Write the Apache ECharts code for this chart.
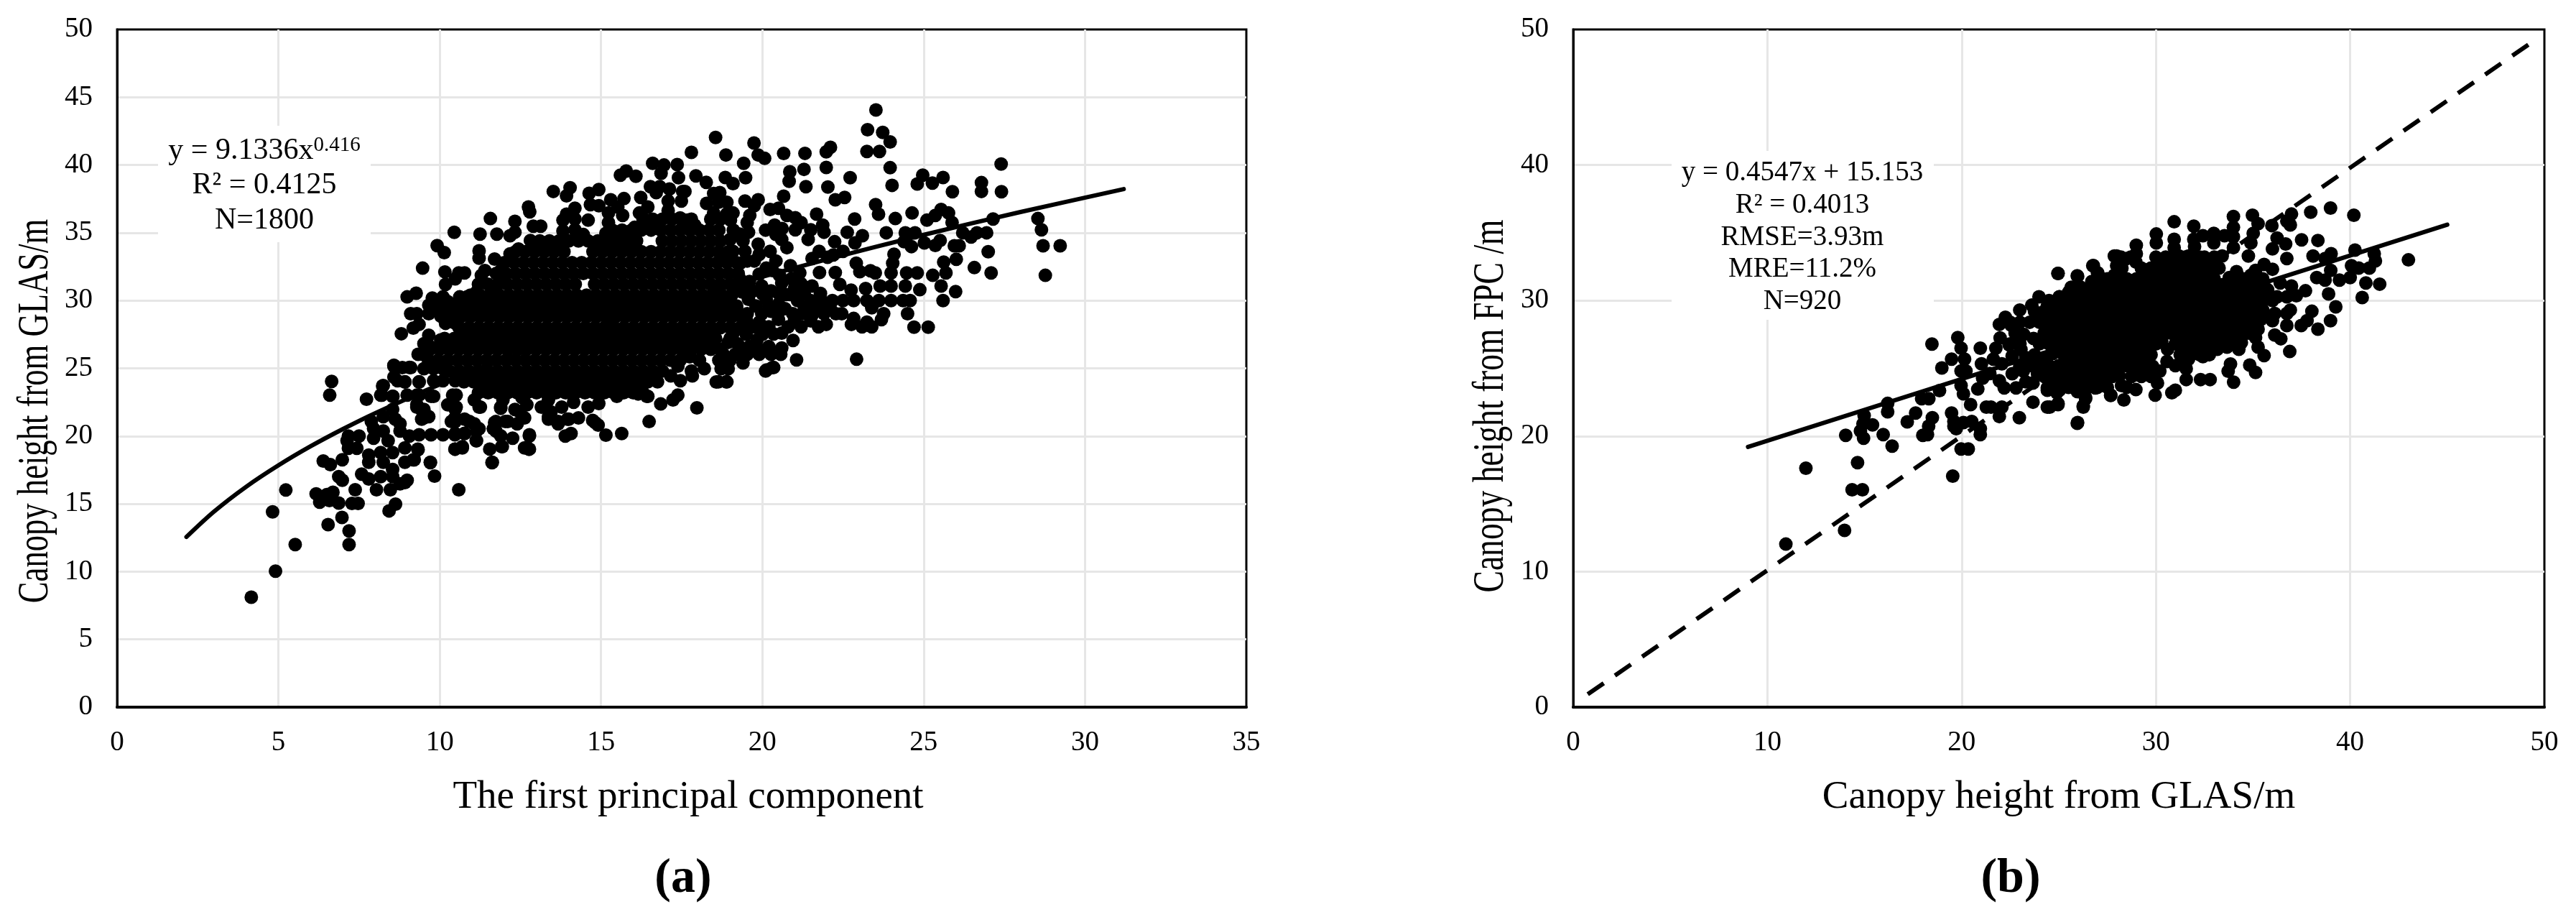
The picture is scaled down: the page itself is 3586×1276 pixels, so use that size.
<!DOCTYPE html>
<html><head><meta charset="utf-8">
<style>html,body{margin:0;padding:0;background:#fff}#c{width:3586px;height:1276px}</style>
<script src="https://cdn.jsdelivr.net/npm/echarts@6/dist/echarts.min.js"></script>
</head><body><div id="c"></div>
<script>
// ---------- panel (a): outlying / edge points [x, y]
const edgeA1=[[4.16,8.11],[4.91,10.03],[5.52,12],[7.19,12],[7.19,13],[6.54,13.47],[6.97,14],[4.82,14.41],[5.23,16.02],[6.17,15.74],[6.28,15.12],[6.58,15.24],[6.87,15.06],[6.69,15.86],[6.5,15.68],[7.38,16.04],[7.28,15.03],[7.47,15.03],[8.43,14.48],[8.63,14.98],[10.59,16.04],[9.84,17.05],[9.71,18.04],[8.04,16.04],[8.47,16.04],[8.92,16.57],[8.77,16.48],[8.99,16.74],[6.87,17.01],[6.98,16.74],[7.58,17.19],[7.8,16.83],[8.17,17.01],[8.54,17.01],[6.39,18.16],[6.61,17.89],[6.98,18.25],[7.8,18.07],[8.25,18.07],[8.54,17.54],[8.92,18.07],[9.21,18.25],[9.32,19.04],[7.8,18.6],[8.17,18.78],[8.54,18.78],[8.92,19.13],[7.17,19.1],[7.43,19.1],[7.13,19.66],[7.17,20],[7.5,20],[7.95,20.55],[8.25,20.37],[7.95,19.84],[8.4,19.66],[8.77,20.37],[7.73,22.72],[6.65,24.03],[6.59,23.02],[8.23,23.7],[8.21,23.02],[8.54,22.93],[8.54,21.96],[8.25,21.43],[8.62,21.25],[8.77,20.9],[7.88,21.08],[10.47,19.04],[10.7,19.22],[11.55,19.04],[11.92,19.22],[11.62,18.04],[12.78,19.04],[12.78,20],[11.14,19.66],[10.47,20.1],[10.77,20.2],[10.1,20.1],[9.73,20.1],[9.36,20.1],[9.06,20],[12.26,19.84],[11.74,20.37],[12.03,21.08],[11.7,21],[11.14,20.37],[10.92,21.08],[10.36,21.08],[9.51,21.34],[9.43,21.96],[9.29,22.32],[8.99,23.02],[9.36,23.02],[9.73,22.93],[9.36,24],[8.92,24],[8.69,24.08],[8.58,25.23],[9.06,25.06],[10.51,23.02],[10.51,22.14],[10.47,21.34],[11.22,22.14],[11.89,22.14],[12.48,21.78],[13.37,21.43],[13.67,20.9],[13.96,21.25],[13.89,20]];
const edgeA2=[[18.55,42.03],[17.8,40.93],[16.6,40.12],[16.95,40],[16.86,39.38],[17.36,40.03],[17.94,39.2],[18.26,38.72],[17.4,39.06],[17.53,38.05],[15.78,39.55],[15.6,39.25],[16.08,39.17],[13.52,38.05],[14.04,38.32],[13.93,37.73],[14.93,38.19],[14.63,37.91],[14.67,37.08],[14.93,37],[15.3,37.43],[15.71,37.52],[15.52,36.9],[16.53,38.4],[16.82,38.4],[17.12,38.23],[16.23,37.61],[16.71,37.96],[16.45,36.9],[16.19,36.46],[17.08,37.34],[17.08,36.64],[17.49,37.34],[17.6,38.05],[18.27,37.17],[18.49,37.9],[16.41,35.93],[16.79,35.57],[17.68,35.93],[17.45,36.1],[18.49,36.46],[17.9,35.57],[15.23,36.46],[15.23,35.75],[15.67,36.28],[15.15,34.96],[15.6,34.87],[16.04,35.4],[14.19,36.81],[13.93,36.37],[14.6,35.93],[13.82,35.93],[14.19,36.02],[13.82,35.13],[14.19,35.22],[14.45,34.87],[12.75,36.9],[12.79,36.55],[12.9,35.49],[13.13,35.49],[12.33,35.84],[12.33,35.04],[12.18,34.78],[11.57,36.05],[11.77,34.9],[11.25,34.9],[10.45,35.03],[9.92,34.05],[10.14,33.54],[9.47,32.39],[11.22,33.67],[11.22,33.13],[12.81,34.43],[12.44,33.8],[12.18,33.45],[11.7,33.06],[10.16,32.11],[10.59,32.04],[10.77,32.04],[10.48,31.6],[10.18,31.19],[11.4,32.21],[11.29,31.86],[11.89,32.21],[11.96,31.86],[8.99,30.27],[9.27,30.54],[9.1,29.03],[9.29,29.03],[9.18,27.97],[9.36,28.24],[8.81,27.55],[9.77,30.18],[9.66,29.65],[10.1,30.27],[10.25,29.92],[10.62,30.27],[10.85,30.27],[11.14,30.62],[11.66,30.89],[9.66,29.03],[10.03,28.86],[10.18,28.32],[10.48,28.32],[9.66,27.44],[10.03,27.09],[9.51,26.82],[9.47,26.03],[9.33,26.03],[9.73,26.56],[8.58,25.14],[8.84,25.05],[9.1,25.05],[8.58,24.35],[8.92,23.99],[8.25,23.73],[8.17,23.02],[8.55,22.93],[9.36,23.99],[9.81,24.08],[9.29,23.02],[9.81,22.93],[9.29,22.14],[9.51,21.96],[9.44,21.25],[9.66,21.43],[9.51,24.97],[9.81,24.97],[10.1,24.97],[10.1,24.08],[10.48,24.08],[10.4,23.02],[10.25,22.31],[10.48,21.96],[10.48,21.07],[10.77,21.25],[11.07,20.9],[11.22,20.54],[10.48,20.19],[10.77,20.19],[10.48,19.04],[10.7,19.13],[11.13,19.66],[11.94,19.22],[11.63,18.07],[9.71,18.07],[9.33,18.99],[9.18,18.25],[11.66,20.54],[11.74,21.07],[12.11,21.07],[11.89,20.02],[12.78,20.1],[12.76,19.04],[12.63,19.13],[12.63,21.34],[12.4,20.9],[12.33,21.96],[11.26,22.14],[11.07,22.67],[11.89,22.05],[11.96,22.67],[12.7,22.31],[12.55,22.84],[13.15,22.14],[13.37,21.25],[13.67,21.07],[14,21.25],[14.3,21.34],[13.45,21.78],[13.37,22.67],[13.78,22.14],[14.15,22.49],[14.6,22.14],[14.93,22.4],[14.07,20.19],[14.74,21.16],[14.91,20.81],[15.15,20.07],[15.64,20.19],[16.49,21.07],[16.85,22.37],[17.23,22.67],[17.38,23.02],[17.97,22.08],[15.49,22.93],[16.15,23.11],[16.45,22.93],[18.57,23.99],[14.82,20.99],[16.42,22.93],[17.46,24.08],[17.83,24.44],[18.2,24.97],[17.16,24.44],[17.38,25.16],[17.75,25.85],[18.64,24],[18.9,24],[18.72,24.97],[18.94,24.97],[20.13,24.88],[20.35,25.06]];
const edgeA3=[[23.52,44.06],[23.26,42.6],[23.73,42.4],[23.96,41.7],[23.24,41],[23.63,41],[23.96,39.8],[24.02,38.5],[27.4,40.07],[26.79,38.7],[26.79,38.05],[27.41,38.03],[24.97,39.25],[25.6,39.08],[25.27,38.67],[24.8,38.6],[25.89,38.03],[22.72,39.06],[21.98,39.82],[22.11,41.3],[21.98,40.97],[21.32,40.86],[20.66,40.85],[21.29,39.68],[20.85,39.5],[20.83,38.8],[21.35,38.4],[22.03,38.37],[19.74,41.62],[19.87,40.74],[20.07,40.49],[18.87,40.74],[19.42,40.12],[19.48,39.06],[18.85,39.08],[19.09,38.63],[20.66,37.7],[22.26,37.43],[22.55,37.61],[23.51,37.08],[23.6,36.37],[22.86,36.02],[24.12,36.05],[24.64,36.46],[27.15,36.02],[28.54,36.05],[28.65,35.22],[28.7,34.04],[29.23,34.04],[28.77,31.86],[27,33.6],[26.01,33.05],[26.57,32.43],[27.09,32.04],[25.99,30.66],[25.6,30],[24.7,28.04],[25.14,28.04],[24.5,29.03],[22.92,25.67],[21.06,25.62],[20.95,27.05],[20.8,28.06],[21.2,28.06],[21.74,28.06],[21.98,28.24],[20.1,24.8],[20.31,25.05],[18.88,24],[25.54,36.72],[25.36,36.28],[25.1,35.93],[25.77,36.46],[25.88,35.75],[24.43,35],[24.73,35],[26.21,35],[26.65,35],[26.95,35],[26.47,34.69],[25.02,34.25],[25.36,34.07],[25.51,34.43],[24.62,33.98],[24.39,34.34],[25.95,34.04],[26.1,34.04],[23.84,35],[22.63,35.04],[23.1,34.78],[22.87,34.25],[22.24,34.34],[21.76,33.63],[21.54,33.1],[22.5,33.63],[22.2,33.36],[22.02,33.19],[22.91,32.75],[23.02,32.13],[23.35,32.2],[23.5,32.04],[24.08,33.42],[24.04,32.75],[23.99,32.04],[24.47,32.04],[24.8,32.04],[21.77,32.07],[22.26,32.07],[22.4,31.19],[22.75,30.77],[23.2,30.89],[23.65,31.07],[23.99,31.07],[24.43,31.07],[24.88,30.8],[25.28,31.86],[25.62,32.83],[25.69,32.04],[25.54,31.07],[21.5,30],[21.83,30],[22.17,30],[22.5,30],[22.83,30],[23.24,30],[23.61,30],[23.99,30],[24.36,30],[24.58,30],[23.39,29.47],[23.76,29.03],[23.69,28.59],[23.24,28.41],[23.09,28.06],[23.39,28.06],[22.76,28.24],[22.83,28.68],[20.94,29.03],[21.24,29.03],[21.57,29.03],[21.91,29.03],[22.28,29.03],[22.46,29.03],[21.09,30],[20.87,30.45],[21.2,31.24],[21.54,31.07],[21.8,30.53],[20.87,32.57],[21.16,32.04],[20.76,33.9],[20.24,33.63],[19.87,34.16],[20.42,32.92],[19.46,33.63],[19.09,33.63],[19.53,32.92],[19.75,32.92],[20.12,32.39],[19.31,32.75],[21.68,36.37],[21.87,35.57],[21.91,35.04],[21.5,35.22],[21.42,34.51],[21.2,35.75],[21.02,36.11],[21.02,35.22],[20.38,35.57],[20.42,34.87],[20.24,36.72],[20.5,36.81],[20.76,36.28],[20.61,35.31],[19.46,37.34],[19.87,37.43],[19.61,36.28],[19.75,37],[19.09,36.46],[18.9,37.25],[19.57,35.04],[19.53,35.75],[19.01,35.93],[18.64,37.25],[18.68,37.96],[20.31,32.21],[19.9,31.95],[20.53,31.86],[20.27,30.71],[20.5,30.53],[19.98,31.07],[19.38,30.62],[19.57,30.09],[20.12,30.09],[20.5,29.74],[20.72,30.45],[19.53,29.03],[19.98,29.03],[20.27,29.2],[20.5,29.12],[19.46,28.06],[19.75,28.06],[20.2,28.06],[20.35,27.53],[19.83,27.1],[19.83,26.56],[19.23,26.82],[18.94,26.91],[18.79,26.03],[19.16,26.03],[19.53,26.03],[19.9,26.03],[20.27,26.03],[20.57,26.03],[18.9,25.05]];
// extra points in the crowded area right of the core of panel (a)
const fillA=[[19.3,31.6],[19.6,31.4],[19.7,30.7],[20,30.5],[19.2,29.5],[19.8,29.6],[20.2,29.6],[20.7,29.4],[21.3,29.5],[21.7,29.6],[22.1,29.5],[20.5,28.6],[21,28.6],[21.5,28.5],[19.5,28.6],[19.9,28.4],[19.1,27.6],[19.5,27.5],[20,27.5],[20.6,27.6],[19.3,26.4],[19.6,26.6],[20.2,26.6],[20.6,26.5],[19,25.6],[19.4,25.4],[19.1,30.9],[20.6,31.3],[21,30.9],[19,34.5],[19.4,34.4],[19.9,33.4],[20.6,34.5],[20.1,35.2],[19.1,35.2],[18.9,36.4],[19.3,34.9],[20.9,31.6],[21.3,30.5],[18.9,33.2]];
// dense core of panel (a): each row is [y, x, x, x ...], estimated from the solid black area
const coreA=[
[36.0,16.3,16.6,16.9,17.2,17.5,17.8,18.4,18.7,19.0],
[35.2,15.35,15.65,15.95,16.25,16.55,16.85,17.15,17.45,17.75,18.05,18.35,18.65],
[34.4,13.1,13.4,13.7,14,14.3,14.6,14.9,15.2,15.5,15.8,16.1,16.9,17.2,17.5,17.8,18.1,18.4,18.7],
[33.6,12.35,12.65,12.95,13.25,13.55,13.85,14.75,15.05,15.35,15.65,15.95,16.25,16.55,16.85,17.15,17.45,17.75,18.05,18.35,18.65,18.95],
[32.8,12,12.3,12.6,12.9,13.2,13.5,13.8,14.1,14.4,14.7,15,15.3,15.6,15.9,16.2,16.5,16.8,17.1,17.4,17.7,18,18.3,18.6,18.9,19.2],
[32.0,11.75,12.05,12.35,12.65,12.95,13.25,13.55,13.85,14.15,14.45,14.75,15.05,15.35,15.65,15.95,16.25,16.55,16.85,17.15,17.45,17.75,18.05,18.35,18.65,18.95,19.25],
[31.2,11.2,11.5,11.8,12.1,12.4,12.7,13,13.3,13.6,13.9,14.2,14.8,15.1,15.4,15.7,16,16.3,16.6,16.9,17.2,17.5,17.8,18.1,18.4,18.7,19,19.4],
[30.4,10.95,11.25,11.55,11.85,12.15,12.45,12.75,13.05,13.35,13.65,13.95,14.25,14.55,14.85,15.15,15.45,15.75,16.05,16.35,16.65,16.95,17.25,17.55,17.85,18.15,18.45,18.75,19.05,19.55],
[29.6,9.9,10.2,10.5,10.8,11.1,11.4,11.7,12,12.3,12.6,12.9,13.2,13.5,13.8,14.1,14.4,14.7,15,15.3,15.6,15.9,16.2,16.5,16.8,17.1,17.4,17.7,18,18.3,18.6,18.9,19.2],
[28.8,10.35,10.65,10.95,11.25,11.55,11.85,12.15,12.45,12.75,13.05,13.35,13.65,13.95,14.25,14.55,14.85,15.15,15.45,15.75,16.05,16.35,16.65,16.95,17.25,17.55,17.85,18.15,18.45,18.75,19.05,19.35],
[28.0,10.6,10.9,11.2,11.5,11.8,12.1,12.4,12.7,13,13.3,13.6,13.9,14.2,14.5,14.8,15.1,15.4,15.7,16,16.3,16.6,16.9,17.2,17.5,17.8,18.1,18.4,18.7,19,19.3],
[27.2,10.15,10.45,10.75,11.05,11.35,11.65,11.95,12.25,12.55,12.85,13.15,13.45,13.75,14.05,14.35,14.65,14.95,15.25,15.55,15.85,16.15,16.45,16.75,17.05,17.35,17.65,17.95,18.25,18.55,19],
[26.4,9.7,10,10.3,10.6,10.9,11.2,11.5,11.8,12.1,12.4,12.7,13,13.3,13.6,13.9,14.2,14.5,14.8,15.1,15.4,15.7,16,16.3,16.6,16.9,17.2,17.5,17.8,18.1,18.4,18.7],
[25.6,9.65,9.95,10.25,10.55,10.85,11.15,11.45,11.75,12.05,12.35,12.65,12.95,13.25,13.55,13.85,14.15,14.45,14.75,15.05,15.35,15.65,15.95,16.25,16.55,16.85,17.15,17.45,18.05,18.65],
[24.8,10.3,10.6,10.9,11.2,11.5,11.8,12.1,12.4,12.7,13,13.3,13.6,13.9,14.2,14.5,14.8,15.1,15.4,15.7,16,16.3,16.6,16.9,17.8],
[24.0,10.75,11.05,11.35,11.65,11.95,12.25,12.55,12.85,13.15,13.45,13.75,14.05,14.35,14.65,14.95,15.25,15.55,15.85,16.15,16.45,16.75],
[23.2,11.2,11.5,11.8,12.1,12.4,12.7,13,13.3,13.6,13.9,14.2,14.5,14.8,15.1,15.4,15.7,16,16.3]
];
const trendAx=[2.15,3,4,5,6,7,8,10,12,15,18,20,22,25,28,31.2];
const trendAy=[12.56,14.42,16.26,17.84,19.25,20.52,21.69,23.81,25.68,28.18,30.4,31.76,33.04,34.85,36.53,38.22];

// ---------- panel (b): outlying / edge points [x, y]
const edgeB1=[[10.95,12.03],[13.97,13.04],[11.98,17.63],[14.64,18.04],[14.36,16.04],[14.89,16.04],[19.54,17.05],[19.97,19.05],[20.34,19.05],[16.42,19.26],[15.96,20.11],[14.03,20.06],[14.95,19.84],[14.79,20.37],[15.41,20.82],[14.98,21.52],[14.92,20.9],[16.19,21.79],[16.19,22.41],[17.2,21.05],[17.63,21.7],[17.94,22.76],[18.31,22.76],[18.86,23.35],[18,20.06],[18.24,20.11],[18.3,20.73],[18.49,21.35],[19.48,21.7],[19.6,20.73],[19.72,20.55],[20.09,21],[20.52,21.08],[20.96,20.55],[20.96,20.11],[19.6,21.08],[18.47,26.79],[19.8,27.27],[19.97,26.48],[20.15,25.68],[19.48,25.68],[18.98,25.03],[19.97,24.8],[20.22,24.8],[19.97,23.73],[20.09,23.12],[20.46,22.32],[20.96,26.48],[21.98,27.24],[21.76,26.48],[20.83,23.47],[21.27,22.14],[21.51,22.14],[22.07,22.14],[21.94,21.44],[22.97,21.35],[22.8,23.56],[22.19,23.56],[21.02,25.33],[21.63,25.68],[22.07,25.33],[21.45,24.62],[21.94,24.09],[21.08,24.27],[22.99,25.15],[23.05,26.39],[22.44,26.74],[23.17,24.8],[21.94,28.24],[22.25,28.77],[22.99,29.3],[22.56,28.16],[23.61,29.66],[23.98,30.28],[24.96,32],[25.97,31.78],[26.78,32.58],[27,32.05],[23.67,22.5],[24.41,22.14],[24.96,22.41],[23.67,23.91],[24.41,23.56],[25.03,23.38],[25.97,21],[26.26,22.14],[26,23.29],[26.38,22.85],[27.67,23],[24.04,24.62],[25.64,30.98],[25.03,30.28],[24.41,29.57],[26.13,30.98],[27.18,30.98],[27.86,33.28],[27.86,31.87]];
const edgeB2=[[43,33],[40.19,36.29],[38.99,36.82],[37.97,36.52],[38.34,34.43],[37.5,34.48],[36.98,36.38],[36.92,35.58],[36.74,35.85],[35.97,35.53],[34.97,36.29],[35.26,35.67],[35.01,34.96],[34.89,34.25],[33.99,36.2],[33.99,35.4],[33.99,34.7],[33.99,33.9],[33.53,34.78],[32.98,34.96],[32.98,34.25],[32.42,34.78],[31.95,35.49],[31.95,34.52],[31.99,33.99],[30.94,35.81],[30.02,34.91],[30.02,34.25],[30.94,34.52],[30.94,33.9],[28.99,34.08],[28.99,33.46],[27.98,33.28],[27.98,32.57],[27.98,31.95],[28.48,33.1],[28.97,32.84],[26.75,32.57],[27,32],[27.18,30.98],[25.95,31.83],[24.96,32],[25.95,30.81],[25.52,30.63],[25.03,30.27],[24.78,29.92],[24.47,29.39],[36.24,34.61],[36,33.81],[36.68,34.17],[36.74,33.1],[35.57,32.66],[36,32.31],[35.13,32.22],[34.89,31.87],[34.15,32.13],[33.78,31.69],[33.41,31.16],[34.76,33.28],[33.41,33.28],[32.79,31.96],[32.3,33.19],[32.92,32.75],[31.68,33.28],[31.19,33.28],[38.09,33.28],[39.02,33.46],[38.71,33.1],[40.25,33.72],[41.24,33.46],[41.3,32.93],[40.99,32.4],[40.07,32.57],[40.44,32.4],[40,31.69],[39.45,31.51],[39,32.22],[38.71,31.51],[38.28,31.69],[40.81,31.3],[41.52,31.21],[40.62,30.22],[38.89,30.49],[39.26,29.53],[38.99,28.51],[36.98,31.07],[37.7,30.72],[37.23,30.36],[36.74,30.27],[36.24,30.27],[35.75,30.27],[36.92,29.3],[36.74,29.04],[36.12,29.04],[36,28.51],[36.74,28.15],[37.48,28.15],[38.03,29.21],[37.78,28.51],[38.34,27.89],[36.12,27.45],[36.43,27.18],[36.89,26.24],[35.57,25.94],[35.26,26.56],[34.76,27.98],[35.26,27.89],[35.13,27.27],[34.27,26.4],[33.66,26.56],[33.16,26.4],[33.84,25.32],[33.72,24.79],[34,23.98],[34.83,25.24],[35.13,24.7],[32.79,24.17],[32.3,24.17],[31.56,24.17],[31.56,24.97],[31.68,25.68],[32.42,25.86],[32.42,26.56],[31.81,26.74],[31,23.38],[30.82,23.2],[29.96,23.02],[30.08,23.91],[30.2,24.79],[30.57,25.5],[29.83,25.15],[28.97,23.43],[28.35,22.67],[27.68,23.02],[28.23,23.73],[28.11,24.44],[27.37,23.73],[26.88,23.56],[26.26,22.23],[26.38,22.76],[25.95,23.29],[25.95,20.94],[24.96,22.32],[24.53,22.14],[24.9,23.2],[24.41,23.38]];
// extra points in the crowded areas beside the core of panel (b)
const fillB=[[23.2,27.5],[23.7,27.2],[22.6,25.9],[23.3,25.8],[24.3,25.8],[24.7,26.1],[23.9,24.6],[24.6,24.2],[23.3,24],[22.6,24.6],[25.3,24.7],[26.2,23.9],[27,24],[35.5,29.3],[35.8,28.8],[35.4,28.6],[35.2,29.8],[34.8,28],[35.5,31],[34.4,26.9],[33.9,27.1],[30.3,27],[30.6,26.4],[33.2,30.1],[36.4,31.3],[26.7,31.4],[27.1,31.7]];
// dense core of panel (b): each row is [y, x, x, x ...]
const coreB=[
[33.2,28.2,28.7,30,30.5,31,31.5,32,32.5,33],
[32.4,28.25,29.25,29.75,30.25,30.75,31.25,31.75,32.25,32.75,33.25],
[31.6,27.5,28,28.5,29,29.5,30,30.5,31,31.5,32,32.5,33,34,34.5,35,35.5],
[30.8,25.75,26.25,26.75,27.25,27.75,28.25,28.75,29.25,29.75,30.25,30.75,31.25,31.75,32.25,32.75,33.25,33.75,34.25,34.75,35.25,35.75],
[30.0,24.5,25,25.5,26,26.5,27,27.5,28,28.5,29,29.5,30,30.5,31,31.5,32,32.5,33,33.5,34,34.5,35,35.5,36],
[29.2,23.75,24.25,24.75,25.25,25.75,26.25,26.75,27.25,27.75,28.25,28.75,29.25,29.75,30.25,30.75,31.25,31.75,32.25,32.75,33.25,33.75,34.25,34.75,35.25],
[28.4,22.5,23,23.5,24,24.5,25,25.5,26,26.5,27,27.5,28,28.5,29,29.5,30,30.5,31,31.5,32,32.5,33,33.5,34,34.5,35],
[27.6,22.75,24.25,24.75,25.25,25.75,26.25,26.75,27.25,27.75,28.25,28.75,29.25,29.75,30.25,30.75,31.25,31.75,32.25,32.75,33.25,33.75,34.25,34.75],
[26.8,22.5,23,24,24.5,25,25.5,26,26.5,27,27.5,28,28.5,29,29.5,30,31,31.5,32,32.5,33,33.5],
[26.0,23.75,25.25,25.75,26.25,26.75,27.25,27.75,28.25,28.75,29.25,29.75,31.25,31.75,32.25,32.75],
[25.2,23.5,24,24.5,25,25.5,26,26.5,27,27.5,28,28.5,29,29.5,31,31.5],
[24.4,24.25,24.75,25.25,25.75,26.25,26.75,27.25,27.75,28.75,29.25,29.75],
[23.6,25,25.5,26,26.5,27,27.5,28.5]
];
const trendBx=[9,45];
const trendBy=[19.2,35.6];
const oneToOneX=[0.75,49.55];
const oneToOneY=[0.95,49.25];

const xTicksA=[0,35,5], yTicksA=[0,50,5], ticksB=[0,50,10];
const statA=['y = 9.1336x{sup|0.416}','R² = 0.4125','N=1800'];
const statB=['y = 0.4547x + 15.153','R² = 0.4013','RMSE=3.93m','MRE=11.2%','N=920'];

function flat(rows){const o=[];rows.forEach(r=>{for(let i=1;i<r.length;i++)o.push([r[i],r[0]]);});return o;}
function zip(a,b){return a.map((v,i)=>[v,b[i]]);}

const FONT='"Liberation Serif","Times New Roman",serif';
const GRID_LINE='#e6e6e6';
function xAxis(idx,t,name,pad){return {type:'value',gridIndex:idx,min:t[0],max:t[1],interval:t[2],
  name:name,nameLocation:'middle',nameGap:98,nameTextStyle:{fontFamily:FONT,fontSize:55,color:'#000',padding:pad},
  axisLine:{show:true,onZero:false,lineStyle:{color:'#000',width:4}},axisTick:{show:false},
  axisLabel:{fontFamily:FONT,fontSize:39,color:'#000',margin:30,hideOverlap:false},
  splitLine:{show:true,showMinLine:false,showMaxLine:false,lineStyle:{color:GRID_LINE,width:3}}};}
function yAxis(idx,t){return {type:'value',gridIndex:idx,min:t[0],max:t[1],interval:t[2],
  axisLine:{show:true,onZero:false,lineStyle:{color:'#000',width:3}},axisTick:{show:false},
  axisLabel:{fontFamily:FONT,fontSize:39,color:'#000',margin:34,hideOverlap:false},
  splitLine:{show:true,showMinLine:false,showMaxLine:false,lineStyle:{color:GRID_LINE,width:3}}};}
function pts(idx,data,name){return {name:name,type:'scatter',xAxisIndex:idx,yAxisIndex:idx,data:data,symbol:'circle',symbolSize:19,
  itemStyle:{color:'#000',opacity:1},emphasis:{disabled:true},animation:false,z:3};}
function line(idx,data,name,dash,smooth){return {name:name,type:'line',xAxisIndex:idx,yAxisIndex:idx,data:data,symbol:'none',smooth:smooth?0.3:false,
  lineStyle:{color:'#000',width:6,opacity:1,type:dash?[27,19]:'solid',cap:dash?'butt':'round'},z:4,animation:false};}
function t(x,y,text,size,extra,weight){return Object.assign({type:'text',x:x,y:y,z:20,style:{text:text,fontFamily:FONT,fontSize:size,fontWeight:weight||'normal',fill:'#000',align:'center',verticalAlign:'middle',
  rich:{sup:{fontFamily:FONT,fontSize:29,fill:'#000',padding:[0,0,16,0]}}}},extra||{});}

const chart=echarts.init(document.getElementById('c'),null,{width:3586,height:1276});
chart.setOption({
  animation:false,backgroundColor:'#fff',
  grid:[
    {left:163,top:41,width:1572,height:943,show:true,borderColor:'#000',borderWidth:3,backgroundColor:'#fff'},
    {left:2190,top:41,width:1352,height:943,show:true,borderColor:'#000',borderWidth:3,backgroundColor:'#fff'}
  ],
  xAxis:[xAxis(0,xTicksA,'The first principal component',[0,0,0,18]),xAxis(1,ticksB,'Canopy height from GLAS/m',[0,0,0,0])],
  yAxis:[yAxis(0,yTicksA),yAxis(1,ticksB)],
  series:[
    pts(0,edgeA1.concat(edgeA2,edgeA3,fillA,flat(coreA)),'Points a'),
    line(0,zip(trendAx,trendAy),'Trend a',false,true),
    pts(1,edgeB1.concat(edgeB2,fillB,flat(coreB)),'Points b'),
    line(1,zip(trendBx,trendBy),'Trend b',false,false),
    line(1,zip(oneToOneX,oneToOneY),'1:1',true,false)
  ],
  graphic:[
    {type:'rect',z:10,shape:{x:220,y:175,width:296,height:162},style:{fill:'#fff'}},
    {type:'rect',z:10,shape:{x:2327,y:210,width:365,height:235},style:{fill:'#fff'}},
    t(368,210,statA[0],42),t(368,258,statA[1],42),t(368,307,statA[2],42),
    t(2509,241,statB[0],39),t(2509,286,statB[1],39),t(2509,331,statB[2],39),t(2509,375,statB[3],39),t(2509,420,statB[4],39),
    t(50,572,'Canopy height from GLAS/m',62,{rotation:Math.PI/2,scaleX:0.72}),
    t(2076,565,'Canopy height from FPC /m',62,{rotation:Math.PI/2,scaleX:0.735}),
    t(951,1223,'(a)',68,null,'bold'),
    t(2799,1223,'(b)',68,null,'bold')
  ]
});
</script></body></html>
